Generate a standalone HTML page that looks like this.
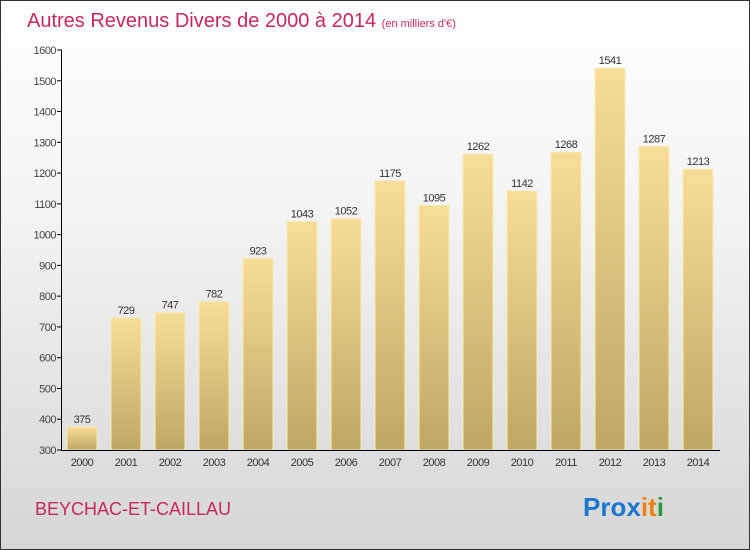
<!DOCTYPE html>
<html><head><meta charset="utf-8"><style>
body{margin:0;width:750px;height:550px;overflow:hidden;font-family:"Liberation Sans",sans-serif;}
#bg{position:absolute;left:0;top:0;width:748px;height:548px;border:1px solid #333;background:linear-gradient(#ffffff,#f3f3f3 40%,#d6d6d6);}
</style></head><body>
<div id="bg"></div>
<svg id="c" width="750" height="550" style="position:absolute;left:0;top:0">
<defs><linearGradient id="g" x1="0" y1="0" x2="0" y2="1"><stop offset="0" stop-color="#f7de98"/><stop offset="1" stop-color="#bfa764"/></linearGradient></defs>
<text x="27" y="27" font-size="20" fill="#c8285a">Autres Revenus Divers de 2000 à 2014 <tspan font-size="11">(en milliers d'€)</tspan></text>
<text x="35" y="515" font-size="18" fill="#c8285a">BEYCHAC-ET-CAILLAU</text>
<text x="583" y="516" font-size="26" font-weight="bold"><tspan fill="#1a78d0">Prox</tspan><tspan fill="#f08010">it</tspan><tspan fill="#2a9a40">i</tspan></text>
<g id="plot"></g>
</svg>
<script>
const years=["2000","2001","2002","2003","2004","2005","2006","2007","2008","2009","2010","2011","2012","2013","2014"];
const values=[375,729,747,782,923,1043,1052,1175,1095,1262,1142,1268,1541,1287,1213];
const yTicks=[300,400,500,600,700,800,900,1000,1100,1200,1300,1400,1500,1600];
const NS="http://www.w3.org/2000/svg";
const g=document.getElementById('plot');
const y0=450,ppu=400/1300;
const yS=v=>y0-(v-300)*ppu;
const xS=i=>82+i*44;
function mk(t,a){const e=document.createElementNS(NS,t);for(const k in a)e.setAttribute(k,a[k]);g.appendChild(e);return e;}
yTicks.forEach(v=>{
 const l=mk('line',{x1:57,x2:62,y1:yS(v),y2:yS(v),stroke:'#000'});
 
 
 const t=mk('text',{x:56,y:yS(v)+4,'text-anchor':'end','font-size':11,fill:'#444','letter-spacing':'-0.5'});
 t.textContent=v;
 
 
});
values.forEach((v,i)=>{
 const r=mk('rect',{x:xS(i)-15,y:yS(v),width:30,height:y0-yS(v),fill:'url(#g)',stroke:'#f8eab8','stroke-width':1});
 
 
 const t=mk('text',{x:xS(i),y:yS(v)-4,'text-anchor':'middle','font-size':11,fill:'#333','letter-spacing':'-0.5'});
 t.textContent=v;
 
 
 const x=mk('text',{x:xS(i),y:466,'text-anchor':'middle','font-size':11,fill:'#333','letter-spacing':'-0.5'});
 x.textContent=years[i];
 
 
});
const ya=mk('line',{x1:61.5,x2:61.5,y1:yS(1600),y2:y0,stroke:'#000'});


const xa=mk('line',{x1:61,x2:720,y1:y0+0.5,y2:y0+0.5,stroke:'#000'});


</script>
</body></html>
